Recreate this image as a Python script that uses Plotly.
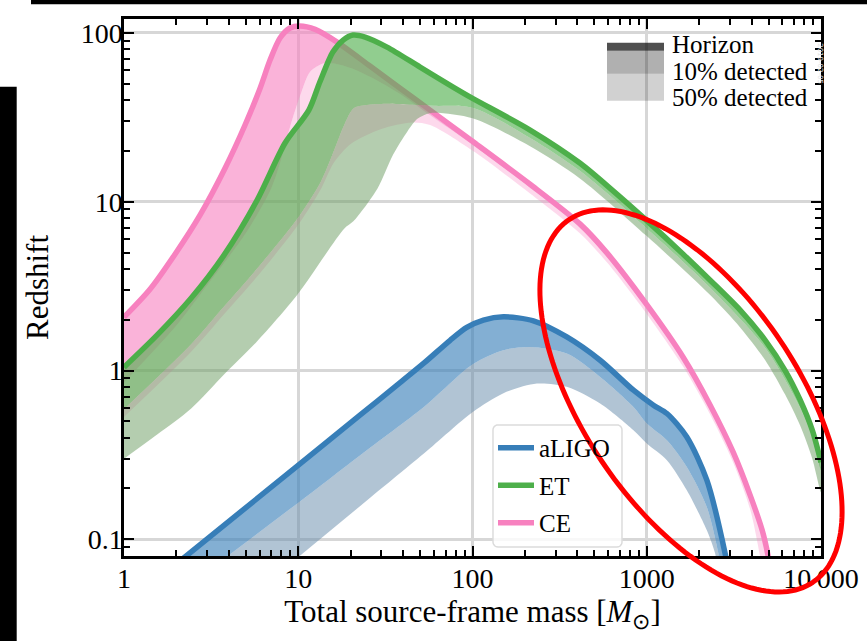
import math
import plotly.graph_objects as go

# ---------------- data ----------------
# aLIGO: horizon, 10% detected and 50% detected redshift vs total mass
aligo_h_mass = [2.10, 10.1, 22.6, 38.4, 53.4, 74.4, 92.7, 115.5, 150.5, 223.7, 347.7, 540, 839, 1093, 1305,
                1698, 2213, 2818, 2932]
aligo_h_z = [0.0745, 0.277, 0.544, 0.847, 1.12, 1.51, 1.80, 1.99, 2.08, 1.97, 1.58, 1.15, 0.764, 0.623, 0.556,
             0.404, 0.224, 0.0823, 0.0655]
aligo_10_mass = [3.56, 10.1, 22.6, 52.6, 100.4, 150.5, 214, 347.7, 540, 839, 1001, 1305, 1698, 2213, 2580, 2673]
aligo_10_z = [0.0736, 0.166, 0.314, 0.608, 1.09, 1.32, 1.38, 1.26, 0.916, 0.608, 0.485, 0.386, 0.268, 0.155,
              0.0823, 0.0655]
aligo_50_mass = [9.59, 22.6, 52.6, 100.4, 150.5, 234, 347.7, 540, 839, 1001, 1305, 1698, 2213, 2470, 2570]
aligo_50_z = [0.0756, 0.157, 0.322, 0.568, 0.734, 0.837, 0.80, 0.637, 0.443, 0.369, 0.294, 0.195, 0.113,
              0.0823, 0.0655]

# ET
et_h_mass = [1, 1.547, 2.425, 3.75, 5.80, 8.40, 11.5, 13.3, 15.8, 18.1, 20.6, 24.2, 32.3, 50.0, 77.4, 99.5,
             214, 415, 641, 993, 1618, 2312, 3436, 4786, 6225, 7601, 8913, 10000]
et_h_z = [1.046, 1.62, 2.68, 4.83, 10.2, 22.3, 34.9, 51.2, 77.1, 90.8, 97.2, 94.6, 82.5, 62.8, 47.8, 41.1,
          26.6, 16.9, 11.6, 7.78, 4.89, 3.43, 2.28, 1.51, 1.0, 0.667, 0.443, 0.286]
et_10_mass = [1, 2.43, 3.76, 5.81, 9.9, 13.5, 16, 18.5, 21, 30, 45, 60, 100, 214, 415, 993, 2312, 4786, 7601,
              8913, 10000]
et_10_z = [0.59, 1.43, 2.4, 4.02, 7.96, 13.2, 20, 29, 36, 38, 37.5, 37, 36, 23.9, 15.2, 7.0, 3.09, 1.36, 0.6,
           0.4, 0.257]
et_50_mass = [1, 1.55, 2.43, 3.76, 5.81, 9.9, 18.4, 20.7, 28.5, 35.1, 42.3, 48.5, 57, 100, 214, 415, 993, 2312,
              3436, 4786, 6225, 7601, 8913, 10000]
et_50_z = [0.30, 0.417, 0.595, 0.95, 1.49, 2.82, 6.95, 7.65, 12.0, 19.1, 26.1, 31.1, 33.5, 31.2, 21.3, 13.7,
           6.3, 2.8, 1.8, 1.15, 0.72, 0.47, 0.3, 0.19]

# CE
ce_h_mass = [1, 1.41, 1.963, 2.73, 3.80, 4.95, 6.04, 6.89, 7.86, 8.97, 10.2, 12.5, 16.7, 25.8, 38.4, 57.1,
             99.5, 214, 415, 592.6, 1005, 1618, 2312, 3133, 3924, 4598, 4977, 5176]
ce_h_z = [2.07, 3.03, 4.89, 8.33, 15.8, 28.5, 47.1, 69.1, 93.3, 107, 110, 105, 88.3, 63.7, 47.1, 34.9,
          22.9, 12.7, 7.37, 4.96, 2.44, 1.199, 0.623, 0.328, 0.182, 0.113, 0.0793, 0.0612]
ce_10_mass = [1, 2, 3, 5, 7, 8, 9, 10.3, 11.7, 13.9, 16, 20, 25.8, 38.4, 57.1, 99.5, 214, 415, 592.6, 1005,
              1618, 2312, 3133, 3924, 4598, 4950, 5150]
ce_10_z = [0.85, 1.85, 3.2, 6.5, 12, 18, 28, 43, 59, 66, 66, 62, 55, 43.5, 32.5, 21.8, 12.1, 7.0, 4.71, 2.32,
           1.14, 0.592, 0.312, 0.173, 0.107, 0.075, 0.058]
ce_50_mass = [1, 2.43, 3.76, 5.81, 9.9, 13.5, 16, 20, 30, 45, 57.1, 99.5, 214, 415, 592.6, 1005, 1618, 2312,
              3133, 3924, 4476, 4700]
ce_50_z = [0.53, 1.29, 2.16, 3.6, 7.2, 11.9, 17, 22, 27, 29.5, 28.5, 20.2, 11.2, 6.49, 4.36, 2.15, 1.055, 0.548,
           0.285, 0.150, 0.079, 0.06]

detectors = ["aLIGO", "ET", "CE"]
x_tick_vals = [1, 10, 100, 1000, 10000]
x_tick_text = ["1", "10", "100", "1000", "10\u2009000"]
y_tick_vals = [0.1, 1, 10, 100]
y_tick_text = ["0.1", "1", "10", "100"]
band_labels = ["Horizon", "10% detected", "50% detected"]

# ---------------- styling ----------------
FONT = "Liberation Serif, Times New Roman, serif"
W, H = 867, 641
PX0, PX1, PY0, PY1 = 124, 821, 19.3, 556  # plot area (pixels)

styles = {
    "aLIGO": dict(line="#377eb8", b1="rgba(55,126,184,0.62)", b2="rgba(100,138,170,0.5)", rank=1),
    "ET": dict(line="#4daf4a", b1="rgba(77,175,74,0.62)", b2="rgba(105,155,95,0.5)", rank=2),
    "CE": dict(line="#f781bf", b1="rgba(247,129,191,0.6)", b2="rgba(247,129,191,0.3)", rank=3),
}
data = {
    "aLIGO": (aligo_h_mass, aligo_h_z, aligo_10_mass, aligo_10_z, aligo_50_mass, aligo_50_z),
    "ET": (et_h_mass, et_h_z, et_10_mass, et_10_z, et_50_mass, et_50_z),
    "CE": (ce_h_mass, ce_h_z, ce_10_mass, ce_10_z, ce_50_mass, ce_50_z),
}


def band(m_hi, z_hi, m_lo, z_lo, color, group):
    return go.Scatter(
        x=list(m_hi) + list(m_lo)[::-1],
        y=list(z_hi) + list(z_lo)[::-1],
        mode="lines", fill="toself", fillcolor=color, legendgroup=group,
        line=dict(width=0, shape="spline", smoothing=0.8),
        hoverinfo="skip", showlegend=False,
    )


fig = go.Figure()
for name in ["CE", "ET", "aLIGO"]:
    hm, hz, m10, z10, m50, z50 = data[name]
    st = styles[name]
    fig.add_trace(band(m10, z10, m50, z50, st["b2"], name))
    fig.add_trace(band(hm, hz, m10, z10, st["b1"], name))
    fig.add_trace(go.Scatter(
        x=hm, y=hz, mode="lines", name=name, legendrank=st["rank"], legendgroup=name,
        line=dict(color=st["line"], width=5.5, shape="spline", smoothing=0.8),
    ))


def px2paper(px, py):
    return (px - PX0) / (PX1 - PX0), (PY1 - py) / (PY1 - PY0)


shapes = []
# screenshot borders (black bars)
x0, y0 = px2paper(31, 0)
x1, y1 = px2paper(867, 4.5)
shapes.append(dict(type="rect", xref="paper", yref="paper", x0=x0, y0=y0, x1=x1, y1=y1,
                   fillcolor="black", line=dict(width=0), layer="above"))
x0, y0 = px2paper(0, 87)
x1, y1 = px2paper(16.7, 641)
shapes.append(dict(type="rect", xref="paper", yref="paper", x0=x0, y0=y0, x1=x1, y1=y1,
                   fillcolor="black", line=dict(width=0), layer="above"))

# rounded frame of the detector legend
bx0, by0, bx1, by1, r = 493, 425, 622, 547, 5
corner_pts = []
for (ccx, ccy, a0) in [(bx1 - r, by0 + r, -90), (bx1 - r, by1 - r, 0), (bx0 + r, by1 - r, 90), (bx0 + r, by0 + r, 180)]:
    for k in range(7):
        ang = math.radians(a0 + 15 * k)
        corner_pts.append(px2paper(ccx + r * math.cos(ang), ccy + r * math.sin(ang)))
frame = "M " + " L ".join(f"{p[0]:.5f},{p[1]:.5f}" for p in corner_pts) + " Z"
shapes.append(dict(type="path", xref="paper", yref="paper", path=frame,
                   fillcolor="rgba(255,255,255,0.82)", line=dict(color="#dcdcdc", width=1.5), layer="above"))

# band-type key (top right)
key = [(43, 51, "rgba(0,0,0,0.69)"), (51, 74, "rgba(0,0,0,0.31)"), (74, 101, "rgba(0,0,0,0.18)")]
for top, bot, col in key:
    x0, y0 = px2paper(607, bot)
    x1, y1 = px2paper(664, top)
    shapes.append(dict(type="rect", xref="paper", yref="paper", x0=x0, y0=y0, x1=x1, y1=y1,
                       fillcolor=col, line=dict(width=0), layer="above"))

# red ellipse annotation
cx, cy, a, b, th = 691, 401, 218.4, 107.7, math.radians(56.1)
pts = []
for i in range(181):
    t = 2 * math.pi * i / 180
    ex = cx + a * math.cos(t) * math.cos(th) - b * math.sin(t) * math.sin(th)
    ey = cy + a * math.cos(t) * math.sin(th) + b * math.sin(t) * math.cos(th)
    pts.append(px2paper(ex, ey))
path = "M " + " L ".join(f"{p[0]:.5f},{p[1]:.5f}" for p in pts) + " Z"
shapes.append(dict(type="path", xref="paper", yref="paper", path=path,
                   line=dict(color="#ff0000", width=5), layer="above"))

annotations = []
for label, ypx in zip(band_labels, [45, 72, 98]):
    ax, ay = px2paper(670, ypx)
    annotations.append(dict(xref="paper", yref="paper", x=ax, y=ay, text=label, showarrow=False,
                            xanchor="left", yanchor="middle", font=dict(family=FONT, size=25, color="black")))
wx, wy = px2paper(826, 42)
annotations.append(dict(xref="paper", yref="paper", x=wx, y=wy, text="2019-02-05", showarrow=False,
                        textangle=90, font=dict(family="DejaVu Sans", size=7, color="#e6e6e6")))


def minor_vals(lo_exp, hi_exp):
    out = []
    for e in range(lo_exp, hi_exp):
        for k in range(2, 10):
            out.append(k * 10 ** e)
    return out


axis_common = dict(
    type="log", showline=True, linecolor="black", linewidth=2.5, mirror="allticks",
    ticks="inside", ticklen=10, tickwidth=2, tickcolor="black",
    showgrid=True, gridcolor="#d7d7d7", gridwidth=3, zeroline=False,
    tickfont=dict(family=FONT, size=28, color="black"),
)

fig.update_layout(
    width=W, height=H,
    paper_bgcolor="white", plot_bgcolor="white",
    margin=dict(l=PX0, r=W - PX1, t=PY0, b=H - PY1, autoexpand=False),
    font=dict(family=FONT, color="black"),
    xaxis=dict(
        **axis_common, range=[0, 4], tickmode="array", tickvals=x_tick_vals, ticktext=x_tick_text,
        ticklabelstandoff=-4,
        minor=dict(tickvals=minor_vals(0, 4), ticks="inside", ticklen=6, tickwidth=1.5,
                   tickcolor="black", showgrid=False),
        title=dict(text="Total source-frame mass [<i>M</i><sub>⊙</sub>]",
                   font=dict(family=FONT, size=31, color="black"), standoff=4),
    ),
    yaxis=dict(
        **axis_common, range=[math.log10(0.0796), math.log10(121)], tickmode="array",
        tickvals=y_tick_vals, ticktext=y_tick_text, ticklabelstandoff=-7,
        minor=dict(tickvals=minor_vals(-2, 3), ticks="inside", ticklen=6, tickwidth=1.5,
                   tickcolor="black", showgrid=False),
        title=dict(text="Redshift", font=dict(family=FONT, size=31, color="black"), standoff=23),
    ),
    legend=dict(
        x=(493 - PX0) / (PX1 - PX0), y=(PY1 - 425) / (PY1 - PY0), xanchor="left", yanchor="top",
        bgcolor="rgba(0,0,0,0)", borderwidth=0,
        font=dict(family=FONT, size=25, color="black"), traceorder="grouped",
        tracegroupgap=2, itemwidth=36,
    ),
    shapes=shapes,
    annotations=annotations,
)

fig.write_html("out.html", config={"displayModeBar": False},
               post_script="document.body.style.margin='0px';")
